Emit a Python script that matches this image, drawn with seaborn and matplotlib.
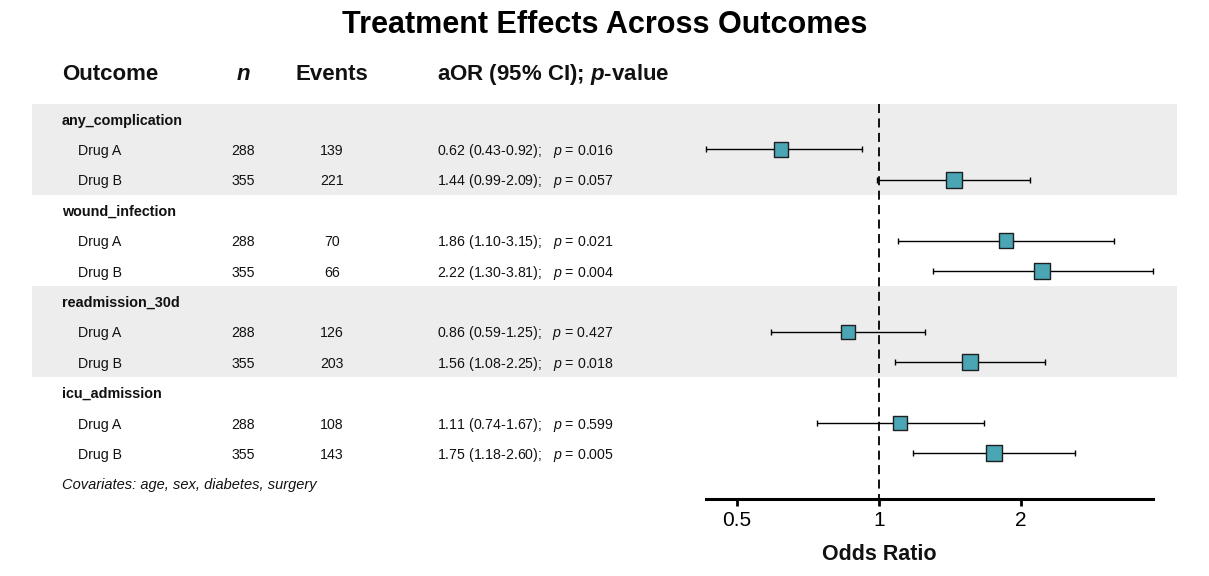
import numpy as np
import pandas as pd
import matplotlib
matplotlib.use("Agg")
import matplotlib.pyplot as plt
import seaborn as sns
from matplotlib.ticker import FixedLocator, FixedFormatter, NullLocator

# ---------------- data ----------------
outcomes = ["any_complication", "wound_infection", "readmission_30d", "icu_admission"]
drugs = ["Drug A", "Drug B"]
n_vals = [288, 355, 288, 355, 288, 355, 288, 355]
events = [139, 221, 70, 66, 126, 203, 108, 143]
aor = [0.62, 1.44, 1.86, 2.22, 0.86, 1.56, 1.11, 1.75]
ci_lo = [0.43, 0.99, 1.10, 1.30, 0.59, 1.08, 0.74, 1.18]
ci_hi = [0.92, 2.09, 3.15, 3.81, 1.25, 2.25, 1.67, 2.60]
p_vals = ["0.016", "0.057", "0.021", "0.004", "0.427", "0.018", "0.599", "0.005"]
x_ticks = [0.5, 1, 2]
x_tick_labels = ["0.5", "1", "2"]
covariate_note = "Covariates: age, sex, diabetes, surgery"

# ---------------- style ----------------
sns.set_style("white")
plt.rcParams["font.family"] = ["Liberation Sans", "DejaVu Sans"]
plt.rcParams["mathtext.fontset"] = "custom"
plt.rcParams["mathtext.rm"] = "Liberation Sans"
plt.rcParams["mathtext.it"] = "Liberation Sans:italic"
plt.rcParams["mathtext.bf"] = "Liberation Sans:bold"
plt.rcParams["mathtext.bfit"] = "Liberation Sans:bold:italic"

W, H = 1209, 576
fig = plt.figure(figsize=(W / 100, H / 100), dpi=100)

def fy(py):
    return 1 - py / H

top_px, bot_px = 103.8, 499
ax_h = (bot_px - top_px) / H

# rows
rows = []
labels = []
for k, oc in enumerate(outcomes):
    for j, d in enumerate(drugs):
        rows.append(3 * k + 1 + j)
        labels.append(d)

df = pd.DataFrame({
    "outcome": [oc for oc in outcomes for _ in drugs],
    "drug": labels,
    "row": rows,
    "n": n_vals,
    "events": events,
    "aor": aor,
    "lo": ci_lo,
    "hi": ci_hi,
    "p": p_vals,
})

ylim = (12.5, -0.5)

# table axes (background, full width)
tab = fig.add_axes([0, fy(bot_px), 1, ax_h])
tab.set_xlim(0, W)
tab.set_ylim(*ylim)
tab.axis("off")

band_color = "#EDEDED"
for k in range(len(outcomes)):
    if k % 2 == 0:
        tab.axhspan(3 * k - 0.5, 3 * k + 2.5, xmin=32 / W, xmax=1177 / W,
                    color=band_color, zorder=0, lw=0)

txt_color = "#111111"
dy = 0.05  # small baseline nudge
# headers
hy = -1.5 + dy
hfs = 16
tab.text(62, hy, "Outcome", fontsize=hfs, weight="bold", va="center", ha="left", color=txt_color)
tab.text(243, hy, "n", fontsize=hfs, weight="bold", style="italic", va="center", ha="center", color=txt_color)
tab.text(332, hy, "Events", fontsize=hfs, weight="bold", va="center", ha="center", color=txt_color)
tab.text(437, hy, r"aOR (95% CI); $\mathbfit{p}$-value", fontsize=hfs, weight="bold",
         va="center", ha="left", color=txt_color)

for k, oc in enumerate(outcomes):
    tab.text(62, 3 * k + dy, oc, fontsize=10.4, weight="bold", va="center", ha="left", color=txt_color)

bfs = 10.2
for _, r in df.iterrows():
    y = r["row"] + dy
    tab.text(78, y, r["drug"], fontsize=bfs, va="center", ha="left", color=txt_color)
    tab.text(243, y, str(r["n"]), fontsize=bfs, va="center", ha="center", color=txt_color)
    tab.text(332, y, str(r["events"]), fontsize=bfs, va="center", ha="center", color=txt_color)
    s = f"{r['aor']:.2f} ({r['lo']:.2f}-{r['hi']:.2f});   $\\mathit{{p}}$ = {r['p']}"
    tab.text(437, y, s, fontsize=bfs, va="center", ha="left", color=txt_color)

tab.text(62, 12 + dy, covariate_note, fontsize=10.5, style="italic", va="center", ha="left", color=txt_color)

# forest axes
fx0, fx1 = 706, 1153
fax = fig.add_axes([fx0 / W, fy(bot_px), (fx1 - fx0) / W, ax_h])
fax.patch.set_alpha(0)

a = np.array(aor)
fax.errorbar(a, df["row"], xerr=[a - np.array(ci_lo), np.array(ci_hi) - a],
             fmt="none", ecolor="black", elinewidth=1.0, capsize=2, capthick=1.0,
             zorder=2, clip_on=False)
sns.scatterplot(data=df, x="aor", y="row", size="n", sizes=(105, 132), marker="s",
                color="#4AA6B5", edgecolor="#1f1f1f", linewidth=1.0, legend=False,
                ax=fax, zorder=3, clip_on=False)
fax.plot([1, 1], [-0.5, 12.5], color="black", lw=1.3, ls=(0, (5, 3)), zorder=1, clip_on=False)

xmin, xmax = min(ci_lo), max(ci_hi)
fax.set_xscale("log")
fax.set_xlim(xmin, xmax)
fax.set_ylim(*ylim)
fax.xaxis.set_major_locator(FixedLocator(x_ticks))
fax.xaxis.set_major_formatter(FixedFormatter(x_tick_labels))
fax.xaxis.set_minor_locator(NullLocator())
fax.set_yticks([])
fax.set_ylabel("")
fax.tick_params(axis="x", direction="out", length=5, width=2, labelsize=15, pad=4,
                colors="black", bottom=True)
for sp in ["left", "top", "right"]:
    fax.spines[sp].set_visible(False)
fax.spines["bottom"].set_linewidth(2.2)
fax.spines["bottom"].set_color("black")
fax.set_xlabel("Odds Ratio", fontsize=15.5, weight="bold", labelpad=10, color=txt_color)
# centre the axis title on the reference line (OR = 1)
fax.xaxis.label.set_x((np.log(1) - np.log(xmin)) / (np.log(xmax) - np.log(xmin)))

fig.text(0.5, fy(25), "Treatment Effects Across Outcomes", fontsize=22, weight="bold",
         ha="center", va="center", color="black")

fig.savefig("out.png", dpi=100)
